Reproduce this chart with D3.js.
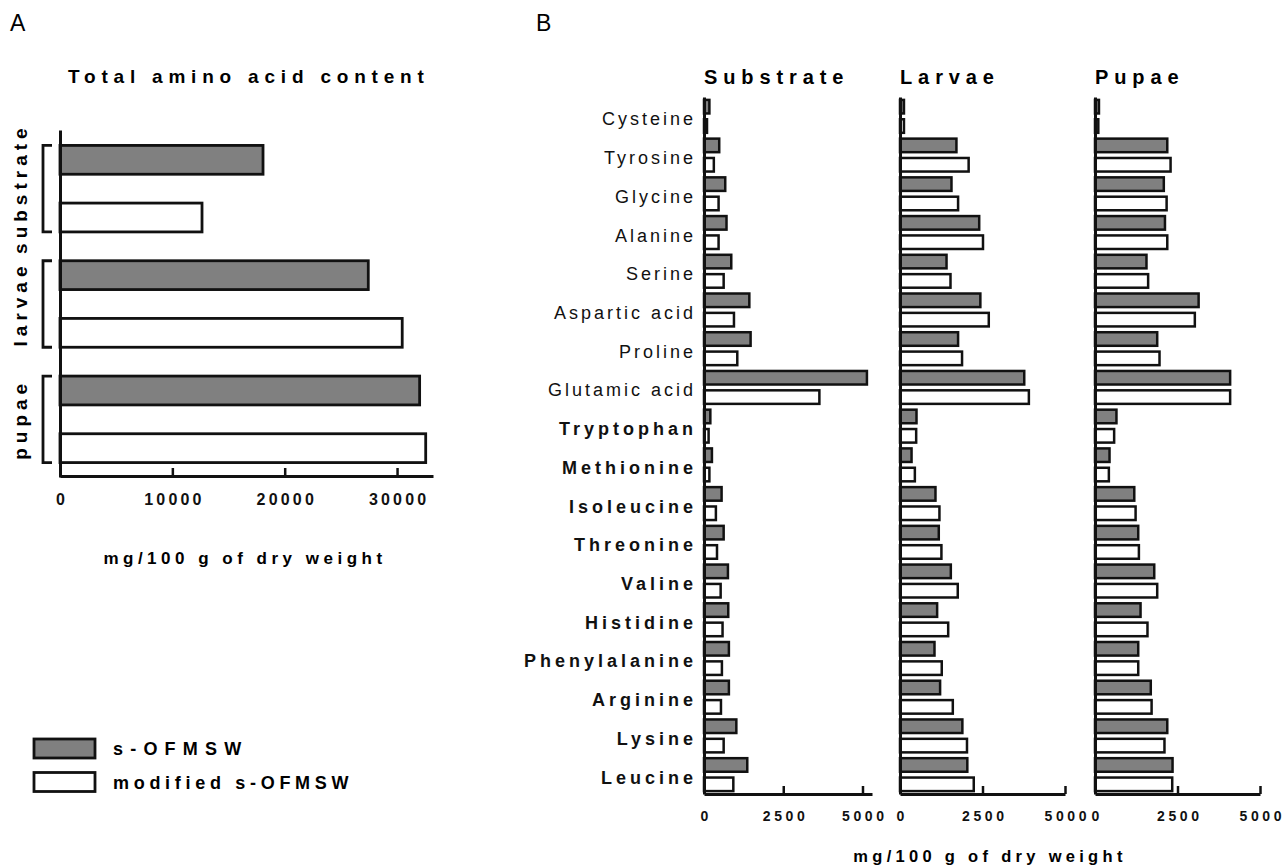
<!DOCTYPE html>
<html>
<head>
<meta charset="utf-8">
<script src="https://cdn.jsdelivr.net/npm/d3@7"></script>
<style>
  body { margin: 0; background: #fff; }
  svg { font-family: "Liberation Sans", Arial, sans-serif; }
</style>
</head>
<body>
<div id="chart"></div>
<script>
// Panel A data
const groups = ["substrate", "larvae", "pupae"];
const totalS = [18070, 27440, 32010];
const totalM = [12640, 30460, 32550];
const totalTicks = [0, 10000, 20000, 30000];

// Panel B data
const aminoAcids = ["Cysteine", "Tyrosine", "Glycine", "Alanine", "Serine", "Aspartic acid", "Proline",
  "Glutamic acid", "Tryptophan", "Methionine", "Isoleucine", "Threonine", "Valine", "Histidine",
  "Phenylalanine", "Arginine", "Lysine", "Leucine"];
const essential = [false, false, false, false, false, false, false, false,
  true, true, true, true, true, true, true, true, true, true];
const substrateS = [170, 480, 670, 710, 860, 1430, 1470, 5140, 200, 250, 555, 620, 755, 765, 785, 785, 1020, 1365];
const substrateM = [95, 310, 460, 460, 620, 945, 1050, 3640, 145, 170, 375, 410, 525, 585, 565, 535, 620, 925];
const larvaeS = [120, 1710, 1560, 2400, 1410, 2435, 1760, 3765, 500, 350, 1075, 1175, 1540, 1125, 1045, 1215, 1890, 2040];
const larvaeM = [120, 2080, 1760, 2515, 1530, 2690, 1880, 3905, 490, 450, 1195, 1255, 1750, 1460, 1265, 1600, 2030, 2235];
const pupaeS = [120, 2190, 2085, 2120, 1560, 3140, 1885, 4095, 650, 440, 1190, 1310, 1795, 1380, 1310, 1690, 2190, 2350];
const pupaeM = [100, 2290, 2170, 2190, 1610, 3025, 1955, 4095, 580, 420, 1230, 1330, 1885, 1590, 1310, 1715, 2105, 2340];
const panelTicks = [0, 2500, 5000];

const series = ["s-OFMSW", "modified s-OFMSW"];
const fills = ["#808080", "#ffffff"];

const svg = d3.select("#chart").append("svg")
  .attr("width", 1288)
  .attr("height", 868);

// panel letters
svg.append("text").attr("x", 10).attr("y", 31).attr("font-size", 23).text("A");
svg.append("text").attr("x", 536).attr("y", 31).attr("font-size", 23).text("B");

// ---------- Panel A ----------
const xA = d3.scaleLinear().domain([0, 33200]).range([60, 433]);
const yA = d3.scaleBand().domain(groups).range([131, 477]);
const yAin = d3.scaleBand().domain(series).range([0, yA.bandwidth()])
  .paddingInner(0.5).paddingOuter(0.25);

svg.append("text")
  .attr("x", 68).attr("y", 83)
  .attr("font-size", 19).attr("font-weight", "bold")
  .attr("letter-spacing", 5.8)
  .text("Total amino acid content");

const rowsA = groups.map((g, i) => ({ g, s: totalS[i], m: totalM[i] }));

rowsA.forEach(r => {
  [r.s, r.m].forEach((v, k) => {
    svg.append("rect")
      .attr("x", xA(0))
      .attr("y", yA(r.g) + yAin(series[k]))
      .attr("width", xA(v) - xA(0))
      .attr("height", yAin.bandwidth())
      .attr("fill", fills[k])
      .attr("stroke", "#111")
      .attr("stroke-width", 2.8);
  });
  // bracket
  const top = yA(r.g) + yAin(series[0]);
  const bot = yA(r.g) + yAin(series[1]) + yAin.bandwidth();
  svg.append("path")
    .attr("d", `M52,${top}H43V${bot}H52`)
    .attr("fill", "none").attr("stroke", "#111").attr("stroke-width", 2.8);
  svg.append("text")
    .attr("transform", `translate(27,${(top + bot) / 2}) rotate(-90)`)
    .attr("text-anchor", "middle")
    .attr("font-size", 19).attr("font-weight", "bold")
    .attr("letter-spacing", 5)
    .text(r.g);
});

// y axis line
svg.append("g")
  .attr("transform", `translate(${xA(0)},0)`)
  .call(d3.axisLeft(d3.scaleLinear().range([130, 477])).tickValues([]).tickSizeOuter(0))
  .call(g => g.select(".domain").attr("stroke", "#111").attr("stroke-width", 3));

const axA = svg.append("g")
  .attr("transform", "translate(0,476)")
  .call(d3.axisBottom(xA).tickValues(totalTicks).tickSizeInner(-8).tickSizeOuter(0)
    .tickPadding(18).tickFormat(d3.format("d")));
axA.select(".domain").attr("stroke", "#111").attr("stroke-width", 3);
axA.selectAll(".tick line").attr("stroke", "#111").attr("stroke-width", 2.5);
axA.selectAll(".tick text")
  .attr("font-family", "Liberation Sans, Arial, sans-serif")
  .attr("font-size", 16).attr("font-weight", "bold").attr("fill", "#111")
  .attr("letter-spacing", 3.2).attr("dx", 1.6);

svg.append("text")
  .attr("x", 245).attr("y", 564)
  .attr("text-anchor", "middle")
  .attr("font-size", 17).attr("font-weight", "bold")
  .attr("letter-spacing", 4.5)
  .text("mg/100 g of dry weight");

// legend
series.forEach((s, k) => {
  const ly = 739 + k * 33.5;
  svg.append("rect")
    .attr("x", 34).attr("y", ly).attr("width", 61).attr("height", 19)
    .attr("fill", fills[k]).attr("stroke", "#111").attr("stroke-width", 2.8);
  svg.append("text")
    .attr("x", 113).attr("y", ly + 16)
    .attr("font-size", 18).attr("font-weight", "bold")
    .attr("letter-spacing", k === 0 ? 7.2 : 4.7)
    .text(s);
});

// ---------- Panel B ----------
const yB = d3.scaleBand().domain(aminoAcids).range([97, 794]);
const yBin = d3.scaleBand().domain(series).range([0, yB.bandwidth()])
  .paddingInner(0.3).paddingOuter(0.15);

const panels = [
  { title: "Substrate", s: substrateS, m: substrateM, x: d3.scaleLinear().domain([0, 5300]).range([704, 872]) },
  { title: "Larvae", s: larvaeS, m: larvaeM, x: d3.scaleLinear().domain([0, 5000]).range([900, 1065]) },
  { title: "Pupae", s: pupaeS, m: pupaeM, x: d3.scaleLinear().domain([0, 5000]).range([1095, 1260]) }
];

panels.forEach(p => {
  const x = p.x;
  svg.append("text")
    .attr("x", x(0)).attr("y", 84)
    .attr("font-size", 20).attr("font-weight", "bold")
    .attr("letter-spacing", 5.9)
    .text(p.title);

  aminoAcids.forEach((a, i) => {
    [p.s[i], p.m[i]].forEach((v, k) => {
      svg.append("rect")
        .attr("x", x(0))
        .attr("y", yB(a) + yBin(series[k]))
        .attr("width", x(v) - x(0))
        .attr("height", yBin.bandwidth())
        .attr("fill", fills[k])
        .attr("stroke", "#111")
        .attr("stroke-width", 2.5);
    });
  });

  svg.append("g")
    .attr("transform", `translate(${x(0)},0)`)
    .call(d3.axisLeft(yB).tickValues([]).tickSizeOuter(0))
    .call(g => g.select(".domain").attr("stroke", "#111").attr("stroke-width", 3));

  const ax = svg.append("g")
    .attr("transform", "translate(0,794)")
    .call(d3.axisBottom(x).tickValues(panelTicks).tickSizeInner(-8).tickSizeOuter(0)
      .tickPadding(17).tickFormat(d3.format("d")));
  ax.select(".domain").attr("stroke", "#111").attr("stroke-width", 3);
  ax.selectAll(".tick line").attr("stroke", "#111").attr("stroke-width", 2.5);
  ax.selectAll(".tick text")
    .attr("font-family", "Liberation Sans, Arial, sans-serif")
    .attr("font-size", 14).attr("font-weight", "bold").attr("fill", "#111")
    .attr("letter-spacing", 3.6).attr("dx", 1.8);
});

// amino acid labels
svg.append("g").selectAll("text")
  .data(aminoAcids)
  .join("text")
  .attr("x", (d, i) => essential[i] ? 697 : 696)
  .attr("y", d => yB(d) + yB.bandwidth() / 2 + 2.5)
  .attr("dy", "0.36em")
  .attr("text-anchor", "end")
  .attr("font-size", 18)
  .attr("font-weight", (d, i) => essential[i] ? "bold" : "normal")
  .attr("letter-spacing", (d, i) => essential[i] ? 4 : 3)
  .attr("fill", "#111")
  .text(d => d);

svg.append("text")
  .attr("x", 990).attr("y", 862)
  .attr("text-anchor", "middle")
  .attr("font-size", 16.5).attr("font-weight", "bold")
  .attr("letter-spacing", 4.3)
  .text("mg/100 g of dry weight");
</script>
</body>
</html>
